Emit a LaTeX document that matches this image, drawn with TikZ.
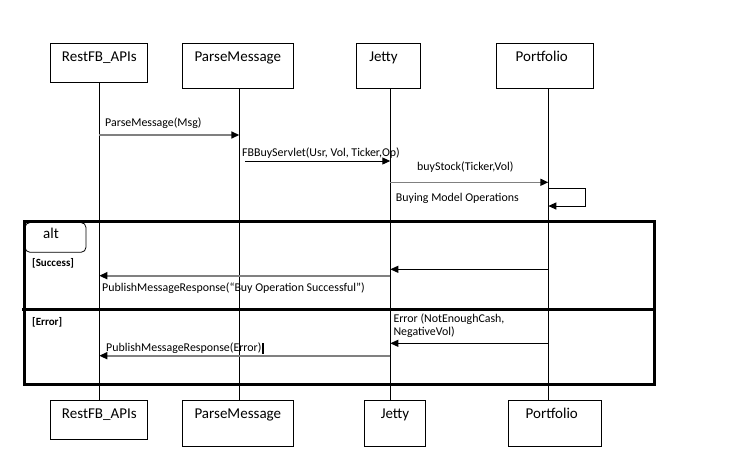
\documentclass[tikz,border=0pt]{standalone}
\usepackage{fontspec}
\setmainfont{Carlito}
\usetikzlibrary{arrows.meta}

\tikzset{
    objbox/.style={draw, line width=1pt, anchor=north, inner sep=0pt, text height=18pt, font=\fontsize{15}{18}\selectfont},
    lifeline/.style={line width=1pt},
    msg/.style={line width=1pt, -{Triangle[length=8pt,width=7pt]}},
    grymsg/.style={draw=gray, line width=1.6pt, -{Triangle[length=8pt,width=7pt,color=black]}},
    lbl/.style={anchor=base west, inner sep=0pt, font=\fontsize{11.9}{13.7}\selectfont},
    guard/.style={anchor=base west, inner sep=0pt, font=\bfseries\fontsize{11}{13}\selectfont},
}

\begin{document}
\begin{tikzpicture}[x=1pt, y=-1pt]

    \useasboundingbox (0,0) rectangle (742,464);

    % Draw the objects at the top
    \node[objbox, minimum width=96.7pt, text depth=21pt] (rtop) at (99.3,43.3) {RestFB\_APIs};
    \node[objbox, minimum width=111pt, text depth=27pt] (ptop) at (237.8,43.3) {ParseMessage};
    \node[objbox, minimum width=63.6pt, text depth=27pt] (jtop) at (388.5,43.3) {Jetty\hspace*{10pt}};
    \node[objbox, minimum width=97pt, text depth=27pt] (ftop) at (544.8,43.3) {Portfolio\hspace*{6pt}};

    % Draw the objects at the bottom
    \node[objbox, minimum width=96.7pt, text depth=21pt] (rbot) at (99.3,400) {RestFB\_APIs};
    \node[objbox, minimum width=111pt, text depth=28pt] (pbot) at (237.8,400) {ParseMessage};
    \node[objbox, minimum width=61.4pt, text depth=28pt] (jbot) at (395,400) {Jetty};
    \node[objbox, minimum width=93pt, text depth=28pt] (fbot) at (554.8,400) {Portfolio\hspace*{6pt}};

    % Lifelines
    \coordinate (rl) at (99.3,0);
    \coordinate (pl) at (239.3,0);
    \coordinate (jl) at (390.3,0);
    \coordinate (fl) at (548.3,0);
    \draw[lifeline] (rtop.south -| rl) -- (rbot.north -| rl);
    \draw[lifeline] (ptop.south -| pl) -- (pbot.north -| pl);
    \draw[lifeline] (jtop.south -| jl) -- (jbot.north -| jl);
    \draw[lifeline] (ftop.south -| fl) -- (fbot.north -| fl);

    % Calls
    \draw[grymsg] (rl |- 0,135) -- (pl |- 0,135);
    \node[lbl] (parsemsg) at (105,126.7) {ParseMessage(Msg)};

    \coordinate (fbstart) at (245,161);
    \draw[msg] (fbstart) -- (jl |- fbstart);
    \node[lbl] (fbbuy) at (242,156) {FBBuyServlet(Usr, Vol, Ticker,Op)};

    \draw[grymsg] (jl |- 0,182.3) -- (fl |- 0,182.3);
    \node[lbl] (buystock) at (417,170.3) {buyStock(Ticker,Vol)};

    \coordinate (loopc) at (585.7,206);
    \draw[msg] (fl |- 0,188.7) -| (loopc) -- (fl |- loopc);
    \node[lbl] (buying) at (395.7,201.3) {Buying Model Operations};

    % Draw the alt frame
    \draw[line width=3pt] (24,221) rectangle (654.7,384.3);
    \draw[line width=3pt] (22,309) -- (654.7,309);
    \draw[line width=0.8pt, rounded corners=5pt] (25,222.5) rectangle (86,252.3);
    \node[anchor=base west, inner sep=0pt, font=\fontsize{15}{18}\selectfont] (alt) at (43,238.3) {alt};

    % Success branch
    \node[guard] (success) at (32,266.7) {[Success]};
    \draw[msg] (fl |- 0,269.3) -- (jl |- 0,269.3);
    \draw[grymsg] (jl |- 0,275.7) -- (rl |- 0,275.7);
    \node[lbl] (pubok) at (102,291.7) {PublishMessageResponse(“Buy Operation Successful”)};

    % Error branch
    \node[guard] (error) at (32,325.7) {[Error]};
    \node[lbl] (err1) at (393.3,322) {Error (NotEnoughCash,};
    \node[lbl] (err2) at (393.3,335.7) {NegativeVol)};
    \draw[msg] (fl |- 0,343.3) -- (jl |- 0,343.3);
    \draw[grymsg] (jl |- 0,355.7) -- (rl |- 0,355.7);
    \node[lbl] (puberr) at (106,351) {PublishMessageResponse(Error)};
    \draw[line width=1.4pt] (puberr.base east) ++(1.5,-8) -- ++(0,11);

\end{tikzpicture}
\end{document}
